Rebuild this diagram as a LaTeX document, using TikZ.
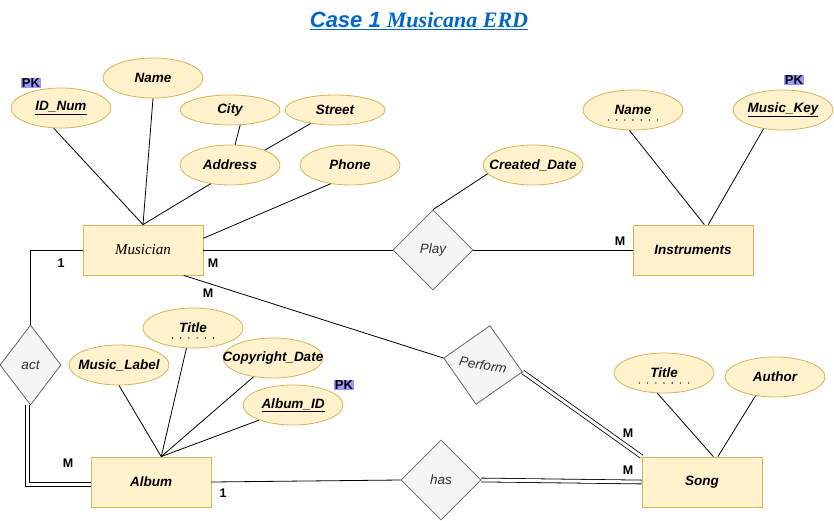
\documentclass[tikz,border=0pt]{standalone}
\usepackage{fontspec}
\setmainfont{Liberation Sans}
\newfontfamily\serifit{Liberation Serif}
\usetikzlibrary{positioning,shapes.geometric}

\definecolor{attrfill}{HTML}{FFF2CC}
\definecolor{attrdraw}{HTML}{D6B656}
\definecolor{relfill}{HTML}{F5F5F5}
\definecolor{reldraw}{HTML}{666666}
\definecolor{pkblue}{HTML}{9999FF}
\definecolor{titleblue}{HTML}{0066CC}

\begin{document}
\begin{tikzpicture}[x=1pt, y=-1pt, line width=0.8pt]
    \tikzstyle{attr}=[ellipse, draw=attrdraw, fill=attrfill, minimum width=100pt, minimum height=40pt, inner xsep=-20pt, inner ysep=0pt, font=\fontsize{13.5}{15}\selectfont\bfseries\itshape]
    \tikzstyle{entity}=[rectangle, draw=attrdraw, fill=attrfill, minimum width=120pt, minimum height=50pt, font=\fontsize{13.5}{15}\selectfont\bfseries\itshape]
    \tikzstyle{relation}=[diamond, draw=reldraw, fill=relfill, minimum width=80pt, minimum height=80pt, inner sep=0pt, text=black!80, font=\fontsize{13.5}{15}\selectfont\itshape]
    \tikzstyle{card}=[inner sep=0pt, font=\fontsize{12.5}{14}\selectfont\bfseries]
    \tikzstyle{pk}=[fill=pkblue, inner sep=1pt, font=\fontsize{13}{14}\selectfont\bfseries]
    \tikzstyle{total}=[double, double distance=3pt, line width=0.8pt]
    \tikzstyle{partial}=[line width=1.6pt, line cap=round, dash pattern=on 0pt off 8.2pt, black!85]

    \path[use as bounding box, fill=white] (0,0) rectangle (834,521);

    % Title
    \node[text=titleblue, font=\fontsize{22}{26}\selectfont\bfseries\itshape] (title) at (419,21) {\underline{Case 1 {\serifit Musicana ERD}}};

    % Entities
    \node[entity, font=\fontsize{15}{17}\selectfont\serifit\itshape] (musician) at (143,250) {Musician};
    \node[entity] (instruments) at (693,250) {Instruments};
    \node[entity] (album) at (151,482) {Album};
    \node[entity] (song) at (702,482) {Song};

    % Relationships
    \node[relation] (play) at (433,250) {Play};
    \node[relation, minimum width=61pt] (act) at (30.5,365) {act};
    \node[relation, rotate=-10] (perform) at (483,365) {Perform};
    \node[relation] (has) at (441,480) {has};

    % Attributes of Musician
    \node[attr] (idnum) at (61,108) {\underline{ID\_Num}};
    \node[attr] (name) at (153,78) {Name};
    \node[attr, minimum height=30pt] (city) at (230,110) {City};
    \node[attr, minimum height=30pt] (street) at (335,110) {Street};
    \node[attr] (address) at (230,165) {Address};
    \node[attr] (phone) at (350,165) {Phone};

    % Attributes of Play and Instruments
    \node[attr] (created) at (533,165) {Created\_Date};
    \node[attr] (iname) at (633,110) {Name};
    \node[attr] (musickey) at (783,110) {\underline{Music\_Key}};

    % Attributes of Album
    \node[attr] (label) at (119,365) {Music\_Label};
    \node[attr] (atitle) at (193,328) {Title};
    \node[attr] (copyright) at (273,358) {Copyright\_Date};
    \node[attr] (albumid) at (293,405) {\underline{Album\_ID}};

    % Attributes of Song
    \node[attr] (stitle) at (664,373) {Title};
    \node[attr] (author) at (775,377) {Author};

    % Dotted keys
    \draw[partial] ([xshift=-24.6pt, yshift=-10pt]iname.center) -- ([xshift=24.6pt, yshift=-10pt]iname.center);
    \draw[partial] ([xshift=-20.5pt, yshift=-10pt]atitle.center) -- ([xshift=20.5pt, yshift=-10pt]atitle.center);
    \draw[partial] ([xshift=-24.6pt, yshift=-10pt]stitle.center) -- ([xshift=24.6pt, yshift=-10pt]stitle.center);

    % Keys
    \node[pk] (pk1) at (31,83) {PK};
    \node[pk] (pk2) at (794,80) {PK};
    \node[pk] (pk3) at (344,385) {PK};

    % Cardinalities
    \node[card] (c1) at (61,263) {1};
    \node[card] (c2) at (213,263) {M};
    \node[card] (c3) at (208,293) {M};
    \node[card] (c4) at (620,241) {M};
    \node[card] (c5) at (68,463) {M};
    \node[card] (c6) at (223,493) {1};
    \node[card] (c7) at (628,433) {M};
    \node[card] (c8) at (628,470) {M};

    % Attribute links
    \draw (idnum.-110) -- (musician.north);
    \draw (name.south) -- (musician.north);
    \draw (address.224) -- (musician.north);
    \draw (phone.224) -- (musician.11);
    \draw (city.-56) -- (address.76);
    \draw (street.209) -- (address.23);
    \draw (play.north) -- (created.191);
    \draw (iname.-100) -- (instruments.66);
    \draw (musickey.224) -- (instruments.59);
    \draw (label.south) -- (album.68);
    \draw (atitle.-108) -- (album.68);
    \draw (copyright.224) -- (album.68);
    \draw (albumid.204) -- (album.68);
    \draw (stitle.-108) -- (song.66);
    \draw (author.224) -- (song.58);

    % Relationship links
    \draw (musician.east) -- (play.west);
    \draw (play.east) -- (instruments.west);
    \draw (musician.-32) -- (perform.west);
    \draw[total] (perform.east) -- (song.north west);
    \draw (musician.west) -| (act.north);
    \draw[total] ([xshift=-3pt]act.south) |- ([yshift=-2.5pt]album.west);
    \draw (album.east) -- (has.west);
    \draw[total] (has.east) -- (song.west);
\end{tikzpicture}
\end{document}
